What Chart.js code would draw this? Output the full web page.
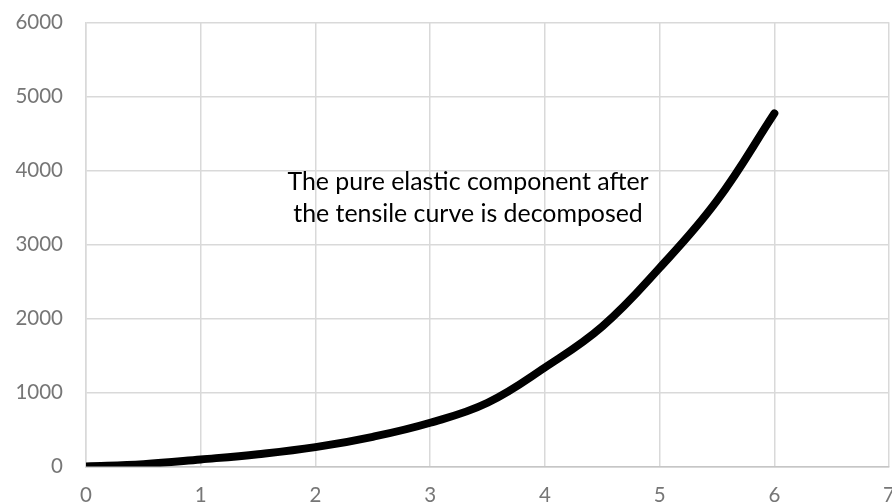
<!DOCTYPE html>
<html>
<head>
<meta charset="utf-8">
<script src="https://cdn.jsdelivr.net/npm/chart.js@4/dist/chart.umd.min.js"></script>
<style>
  html, body { margin: 0; padding: 0; background: #ffffff; overflow: hidden; width: 892px; height: 504px; }
  #wrap { position: absolute; left: 0; top: -13px; width: 912px; height: 550px; }
  canvas { display: block; }
</style>
</head>
<body>
<div id="wrap"><canvas id="c" width="912" height="550"></canvas></div>
<script>
// Data
const strainValues = [0, 0.5, 1, 1.5, 2, 2.5, 3, 3.5, 4, 4.5, 5, 5.5, 6];
const stressValues = [0, 30, 94, 165, 260, 400, 590, 860, 1336, 1890, 2682, 3590, 4770];
const xTickValues = [0, 1, 2, 3, 4, 5, 6, 7];
const yTickValues = [0, 1000, 2000, 3000, 4000, 5000, 6000];
const annotationLines = ['The pure elastic component after', 'the tensile curve is decomposed'];
const annotationAnchor = [3.33, 3740]; // x value, y value of first baseline

const points = strainValues.map((x, i) => ({ x: x, y: stressValues[i] }));

const annotationPlugin = {
  id: 'annotationText',
  afterDraw(chart) {
    const ctx = chart.ctx;
    const xs = chart.scales.x, ys = chart.scales.y;
    const cx = xs.getPixelForValue(annotationAnchor[0]);
    const by = ys.getPixelForValue(annotationAnchor[1]);
    ctx.save();
    ctx.font = '24.9px Lato';
    ctx.fillStyle = '#000000';
    ctx.textAlign = 'center';
    ctx.textBaseline = 'alphabetic';
    annotationLines.forEach((t, i) => ctx.fillText(t, cx, by + i * 32.4));
    ctx.restore();
  }
};

new Chart(document.getElementById('c'), {
  type: 'line',
  data: {
    datasets: [{
      data: points,
      borderColor: '#000000',
      borderWidth: 8,
      borderCapStyle: 'round',
      borderJoinStyle: 'round',
      pointRadius: 0,
      pointHoverRadius: 0,
      fill: false,
      tension: 0.4
    }]
  },
  options: {
    responsive: false,
    animation: false,
    events: [],
    layout: { padding: { left: 0, right: 10, top: 9, bottom: 12 } },
    plugins: { legend: { display: false }, tooltip: { enabled: false } },
    scales: {
      x: {
        type: 'linear',
        min: xTickValues[0],
        max: xTickValues[xTickValues.length - 1],
        afterBuildTicks(axis) { axis.ticks = xTickValues.map(v => ({ value: v })); },
        ticks: { color: '#767676', font: { family: 'Lato', size: 20.5 }, padding: 17, maxRotation: 0,
                 callback: v => String(v) },
        grid: { color: '#d9d9d9', lineWidth: 1.5, drawTicks: false },
        border: { color: '#c6c6c6', width: 1.5 }
      },
      y: {
        type: 'linear',
        min: yTickValues[0],
        max: yTickValues[yTickValues.length - 1],
        afterBuildTicks(axis) { axis.ticks = yTickValues.map(v => ({ value: v })); },
        afterFit(axis) { axis.width = 86; },
        ticks: { color: '#767676', font: { family: 'Lato', size: 20.5 }, padding: 23,
                 callback: v => String(v) },
        grid: { color: '#d9d9d9', lineWidth: 1.5, drawTicks: false },
        border: { color: '#d9d9d9', width: 1.5 }
      }
    }
  },
  plugins: [annotationPlugin]
});
</script>
</body>
</html>
